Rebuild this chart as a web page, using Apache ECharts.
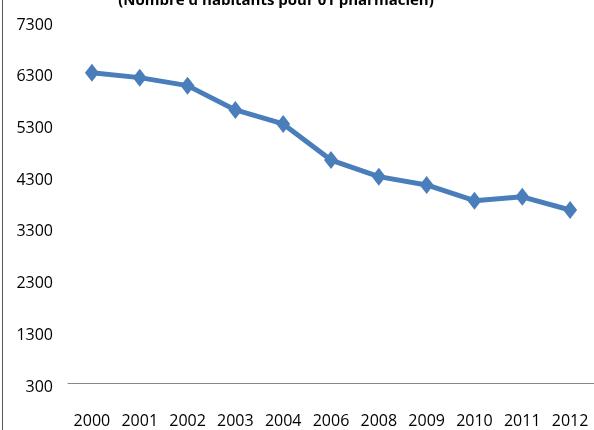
<!DOCTYPE html>
<html>
<head>
<meta charset="utf-8">
<script src="https://cdn.jsdelivr.net/npm/echarts@6/dist/echarts.min.js"></script>
<style>html,body{margin:0;padding:0;background:#fff}#c{width:594px;height:430px}</style>
</head>
<body>
<div id="c"></div>
<script>
const titleText = "(Nombre d'habitants pour 01 pharmacien)";
const years = ['2000','2001','2002','2003','2004','2006','2008','2009','2010','2011','2012'];
const habitants = [6300, 6205, 6050, 5580, 5310, 4610, 4290, 4130, 3825, 3900, 3645];
const yMin = 300, yMax = 7300, yStep = 1000;

const chart = echarts.init(document.getElementById('c'), null, {renderer: 'canvas'});
chart.setOption({
  animation: false,
  backgroundColor: '#fff',
  title: {
    text: titleText,
    left: 271, top: -12,
    textAlign: 'center',
    textStyle: {fontFamily: 'Open Sans', fontWeight: 'bold', fontSize: 15, color: '#000'}
  },
  graphic: [{
    type: 'line', shape: {x1: 2.5, y1: 0, x2: 2.5, y2: 430},
    style: {stroke: '#595959', lineWidth: 1}
  }],
  grid: {left: 68, right: -2, top: 21, bottom: 47},
  xAxis: {
    type: 'category', data: years, boundaryGap: true,
    axisLine: {lineStyle: {color: '#868686', width: 1}},
    axisTick: {show: false},
    axisLabel: {fontFamily: 'Open Sans', fontSize: 16, color: '#000', margin: 30}
  },
  yAxis: {
    type: 'value', min: yMin, max: yMax, interval: yStep,
    axisLine: {show: false}, axisTick: {show: false}, splitLine: {show: false},
    axisLabel: {color: '#000', margin: 15,
      formatter: v => '{a|' + v + '}',
      rich: {a: {fontFamily: 'Open Sans', fontSize: 16, color: '#000', padding: [8, 0, 0, 0]}}}
  },
  series: [{
    type: 'line', data: habitants,
    lineStyle: {color: '#4A7EBB', width: 5},
    itemStyle: {color: '#4A7EBB'},
    symbol: 'diamond', symbolSize: [14, 18],
    showAllSymbol: true
  }]
});
</script>
</body>
</html>
